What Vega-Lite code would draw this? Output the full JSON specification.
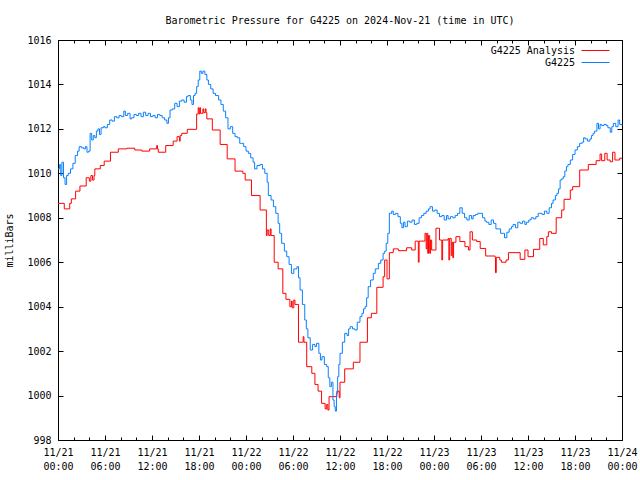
{
  "$schema": "https://vega.github.io/schema/vega-lite/v6.json",
  "width": 564,
  "height": 400,
  "autosize": {"type": "none"},
  "padding": {"left": 58, "top": 40, "right": 18, "bottom": 40},
  "background": "white",
  "title": {"text": "Barometric Pressure for G4225 on 2024-Nov-21 (time in UTC)", "font": "DejaVu Sans Mono", "fontSize": 10, "fontWeight": "normal", "color": "black", "anchor": "middle", "baseline": "bottom", "offset": -1},
  "config": {
    "view": {"stroke": "black", "strokeWidth": 1},
    "font": "DejaVu Sans Mono",
    "axis": {"domain": false, "grid": false, "labelFont": "DejaVu Sans Mono", "labelFontSize": 10, "labelColor": "black", "tickColor": "black", "tickWidth": 1}
  },
  "data": {"values": [
    {"series": "G4225 Analysis", "t": "2024-11-21T00:00:00Z", "p": 1008.65},
    {"series": "G4225 Analysis", "t": "2024-11-21T00:48:00Z", "p": 1008.4},
    {"series": "G4225 Analysis", "t": "2024-11-21T01:30:00Z", "p": 1008.65},
    {"series": "G4225 Analysis", "t": "2024-11-21T01:42:00Z", "p": 1008.85},
    {"series": "G4225 Analysis", "t": "2024-11-21T02:15:00Z", "p": 1009.2},
    {"series": "G4225 Analysis", "t": "2024-11-21T02:48:00Z", "p": 1009.43},
    {"series": "G4225 Analysis", "t": "2024-11-21T03:36:00Z", "p": 1009.8},
    {"series": "G4225 Analysis", "t": "2024-11-21T04:00:00Z", "p": 1009.65},
    {"series": "G4225 Analysis", "t": "2024-11-21T04:12:00Z", "p": 1009.9},
    {"series": "G4225 Analysis", "t": "2024-11-21T04:24:00Z", "p": 1009.7},
    {"series": "G4225 Analysis", "t": "2024-11-21T04:36:00Z", "p": 1009.9},
    {"series": "G4225 Analysis", "t": "2024-11-21T04:42:00Z", "p": 1010.2},
    {"series": "G4225 Analysis", "t": "2024-11-21T05:24:00Z", "p": 1010.35},
    {"series": "G4225 Analysis", "t": "2024-11-21T05:54:00Z", "p": 1010.55},
    {"series": "G4225 Analysis", "t": "2024-11-21T06:42:00Z", "p": 1010.95},
    {"series": "G4225 Analysis", "t": "2024-11-21T07:42:00Z", "p": 1011.1},
    {"series": "G4225 Analysis", "t": "2024-11-21T08:48:00Z", "p": 1011.13},
    {"series": "G4225 Analysis", "t": "2024-11-21T09:48:00Z", "p": 1011.05},
    {"series": "G4225 Analysis", "t": "2024-11-21T10:42:00Z", "p": 1011.0},
    {"series": "G4225 Analysis", "t": "2024-11-21T11:42:00Z", "p": 1011.1},
    {"series": "G4225 Analysis", "t": "2024-11-21T12:36:00Z", "p": 1011.25},
    {"series": "G4225 Analysis", "t": "2024-11-21T12:42:00Z", "p": 1011.1},
    {"series": "G4225 Analysis", "t": "2024-11-21T12:48:00Z", "p": 1010.95},
    {"series": "G4225 Analysis", "t": "2024-11-21T13:45:00Z", "p": 1011.25},
    {"series": "G4225 Analysis", "t": "2024-11-21T14:42:00Z", "p": 1011.45},
    {"series": "G4225 Analysis", "t": "2024-11-21T15:12:00Z", "p": 1011.65},
    {"series": "G4225 Analysis", "t": "2024-11-21T15:30:00Z", "p": 1011.45},
    {"series": "G4225 Analysis", "t": "2024-11-21T15:36:00Z", "p": 1011.7},
    {"series": "G4225 Analysis", "t": "2024-11-21T15:48:00Z", "p": 1011.8},
    {"series": "G4225 Analysis", "t": "2024-11-21T16:30:00Z", "p": 1011.98},
    {"series": "G4225 Analysis", "t": "2024-11-21T17:42:00Z", "p": 1012.67},
    {"series": "G4225 Analysis", "t": "2024-11-21T17:54:00Z", "p": 1012.95},
    {"series": "G4225 Analysis", "t": "2024-11-21T18:00:00Z", "p": 1012.67},
    {"series": "G4225 Analysis", "t": "2024-11-21T18:06:00Z", "p": 1012.95},
    {"series": "G4225 Analysis", "t": "2024-11-21T18:12:00Z", "p": 1012.7},
    {"series": "G4225 Analysis", "t": "2024-11-21T18:30:00Z", "p": 1012.9},
    {"series": "G4225 Analysis", "t": "2024-11-21T18:36:00Z", "p": 1012.73},
    {"series": "G4225 Analysis", "t": "2024-11-21T18:48:00Z", "p": 1012.9},
    {"series": "G4225 Analysis", "t": "2024-11-21T18:54:00Z", "p": 1012.73},
    {"series": "G4225 Analysis", "t": "2024-11-21T19:00:00Z", "p": 1012.45},
    {"series": "G4225 Analysis", "t": "2024-11-21T19:42:00Z", "p": 1011.95},
    {"series": "G4225 Analysis", "t": "2024-11-21T20:42:00Z", "p": 1011.3},
    {"series": "G4225 Analysis", "t": "2024-11-21T21:36:00Z", "p": 1010.65},
    {"series": "G4225 Analysis", "t": "2024-11-21T22:36:00Z", "p": 1010.1},
    {"series": "G4225 Analysis", "t": "2024-11-21T23:36:00Z", "p": 1010.0},
    {"series": "G4225 Analysis", "t": "2024-11-21T23:54:00Z", "p": 1009.7},
    {"series": "G4225 Analysis", "t": "2024-11-22T00:42:00Z", "p": 1009.0},
    {"series": "G4225 Analysis", "t": "2024-11-22T01:48:00Z", "p": 1008.35},
    {"series": "G4225 Analysis", "t": "2024-11-22T02:36:00Z", "p": 1007.2},
    {"series": "G4225 Analysis", "t": "2024-11-22T02:42:00Z", "p": 1007.45},
    {"series": "G4225 Analysis", "t": "2024-11-22T02:54:00Z", "p": 1007.2},
    {"series": "G4225 Analysis", "t": "2024-11-22T03:06:00Z", "p": 1007.5},
    {"series": "G4225 Analysis", "t": "2024-11-22T03:12:00Z", "p": 1007.2},
    {"series": "G4225 Analysis", "t": "2024-11-22T03:36:00Z", "p": 1006.0},
    {"series": "G4225 Analysis", "t": "2024-11-22T04:06:00Z", "p": 1005.7},
    {"series": "G4225 Analysis", "t": "2024-11-22T04:42:00Z", "p": 1004.6},
    {"series": "G4225 Analysis", "t": "2024-11-22T05:06:00Z", "p": 1004.33},
    {"series": "G4225 Analysis", "t": "2024-11-22T05:36:00Z", "p": 1004.0},
    {"series": "G4225 Analysis", "t": "2024-11-22T05:48:00Z", "p": 1004.25},
    {"series": "G4225 Analysis", "t": "2024-11-22T05:54:00Z", "p": 1003.95},
    {"series": "G4225 Analysis", "t": "2024-11-22T06:06:00Z", "p": 1004.3},
    {"series": "G4225 Analysis", "t": "2024-11-22T06:15:00Z", "p": 1004.1},
    {"series": "G4225 Analysis", "t": "2024-11-22T06:42:00Z", "p": 1002.4},
    {"series": "G4225 Analysis", "t": "2024-11-22T07:18:00Z", "p": 1002.65},
    {"series": "G4225 Analysis", "t": "2024-11-22T07:24:00Z", "p": 1002.4},
    {"series": "G4225 Analysis", "t": "2024-11-22T07:45:00Z", "p": 1001.3},
    {"series": "G4225 Analysis", "t": "2024-11-22T08:24:00Z", "p": 1001.0},
    {"series": "G4225 Analysis", "t": "2024-11-22T08:48:00Z", "p": 1000.5},
    {"series": "G4225 Analysis", "t": "2024-11-22T09:12:00Z", "p": 1000.2},
    {"series": "G4225 Analysis", "t": "2024-11-22T09:39:00Z", "p": 999.65},
    {"series": "G4225 Analysis", "t": "2024-11-22T10:06:00Z", "p": 999.4},
    {"series": "G4225 Analysis", "t": "2024-11-22T10:18:00Z", "p": 999.6},
    {"series": "G4225 Analysis", "t": "2024-11-22T10:27:00Z", "p": 999.35},
    {"series": "G4225 Analysis", "t": "2024-11-22T10:36:00Z", "p": 999.95},
    {"series": "G4225 Analysis", "t": "2024-11-22T11:36:00Z", "p": 1000.2},
    {"series": "G4225 Analysis", "t": "2024-11-22T11:54:00Z", "p": 999.9},
    {"series": "G4225 Analysis", "t": "2024-11-22T12:00:00Z", "p": 1000.6},
    {"series": "G4225 Analysis", "t": "2024-11-22T12:36:00Z", "p": 1001.2},
    {"series": "G4225 Analysis", "t": "2024-11-22T13:42:00Z", "p": 1001.5},
    {"series": "G4225 Analysis", "t": "2024-11-22T14:33:00Z", "p": 1002.4},
    {"series": "G4225 Analysis", "t": "2024-11-22T15:30:00Z", "p": 1003.5},
    {"series": "G4225 Analysis", "t": "2024-11-22T16:00:00Z", "p": 1003.7},
    {"series": "G4225 Analysis", "t": "2024-11-22T16:42:00Z", "p": 1004.87},
    {"series": "G4225 Analysis", "t": "2024-11-22T17:30:00Z", "p": 1005.35},
    {"series": "G4225 Analysis", "t": "2024-11-22T17:42:00Z", "p": 1006.1},
    {"series": "G4225 Analysis", "t": "2024-11-22T18:00:00Z", "p": 1005.25},
    {"series": "G4225 Analysis", "t": "2024-11-22T18:18:00Z", "p": 1006.43},
    {"series": "G4225 Analysis", "t": "2024-11-22T18:48:00Z", "p": 1006.6},
    {"series": "G4225 Analysis", "t": "2024-11-22T19:27:00Z", "p": 1006.52},
    {"series": "G4225 Analysis", "t": "2024-11-22T20:30:00Z", "p": 1006.65},
    {"series": "G4225 Analysis", "t": "2024-11-22T21:09:00Z", "p": 1006.55},
    {"series": "G4225 Analysis", "t": "2024-11-22T21:36:00Z", "p": 1006.95},
    {"series": "G4225 Analysis", "t": "2024-11-22T22:00:00Z", "p": 1006.0},
    {"series": "G4225 Analysis", "t": "2024-11-22T22:06:00Z", "p": 1006.95},
    {"series": "G4225 Analysis", "t": "2024-11-22T22:51:00Z", "p": 1007.3},
    {"series": "G4225 Analysis", "t": "2024-11-22T23:00:00Z", "p": 1006.6},
    {"series": "G4225 Analysis", "t": "2024-11-22T23:06:00Z", "p": 1007.3},
    {"series": "G4225 Analysis", "t": "2024-11-22T23:12:00Z", "p": 1006.4},
    {"series": "G4225 Analysis", "t": "2024-11-22T23:18:00Z", "p": 1007.2},
    {"series": "G4225 Analysis", "t": "2024-11-22T23:27:00Z", "p": 1006.4},
    {"series": "G4225 Analysis", "t": "2024-11-22T23:33:00Z", "p": 1007.0},
    {"series": "G4225 Analysis", "t": "2024-11-22T23:42:00Z", "p": 1006.55},
    {"series": "G4225 Analysis", "t": "2024-11-23T00:15:00Z", "p": 1007.53},
    {"series": "G4225 Analysis", "t": "2024-11-23T00:42:00Z", "p": 1007.0},
    {"series": "G4225 Analysis", "t": "2024-11-23T01:00:00Z", "p": 1006.1},
    {"series": "G4225 Analysis", "t": "2024-11-23T01:06:00Z", "p": 1007.0},
    {"series": "G4225 Analysis", "t": "2024-11-23T01:48:00Z", "p": 1007.07},
    {"series": "G4225 Analysis", "t": "2024-11-23T01:54:00Z", "p": 1006.1},
    {"series": "G4225 Analysis", "t": "2024-11-23T02:00:00Z", "p": 1007.07},
    {"series": "G4225 Analysis", "t": "2024-11-23T02:12:00Z", "p": 1006.3},
    {"series": "G4225 Analysis", "t": "2024-11-23T02:18:00Z", "p": 1006.9},
    {"series": "G4225 Analysis", "t": "2024-11-23T02:24:00Z", "p": 1006.2},
    {"series": "G4225 Analysis", "t": "2024-11-23T02:30:00Z", "p": 1006.9},
    {"series": "G4225 Analysis", "t": "2024-11-23T02:48:00Z", "p": 1007.15},
    {"series": "G4225 Analysis", "t": "2024-11-23T03:18:00Z", "p": 1006.93},
    {"series": "G4225 Analysis", "t": "2024-11-23T03:57:00Z", "p": 1006.7},
    {"series": "G4225 Analysis", "t": "2024-11-23T04:24:00Z", "p": 1006.55},
    {"series": "G4225 Analysis", "t": "2024-11-23T04:36:00Z", "p": 1007.37},
    {"series": "G4225 Analysis", "t": "2024-11-23T04:54:00Z", "p": 1007.0},
    {"series": "G4225 Analysis", "t": "2024-11-23T05:27:00Z", "p": 1006.93},
    {"series": "G4225 Analysis", "t": "2024-11-23T05:54:00Z", "p": 1006.62},
    {"series": "G4225 Analysis", "t": "2024-11-23T06:36:00Z", "p": 1006.28},
    {"series": "G4225 Analysis", "t": "2024-11-23T07:48:00Z", "p": 1006.22},
    {"series": "G4225 Analysis", "t": "2024-11-23T07:51:00Z", "p": 1005.53},
    {"series": "G4225 Analysis", "t": "2024-11-23T07:57:00Z", "p": 1006.22},
    {"series": "G4225 Analysis", "t": "2024-11-23T08:24:00Z", "p": 1006.1},
    {"series": "G4225 Analysis", "t": "2024-11-23T08:36:00Z", "p": 1006.0},
    {"series": "G4225 Analysis", "t": "2024-11-23T09:12:00Z", "p": 1006.1},
    {"series": "G4225 Analysis", "t": "2024-11-23T09:30:00Z", "p": 1006.43},
    {"series": "G4225 Analysis", "t": "2024-11-23T11:00:00Z", "p": 1006.13},
    {"series": "G4225 Analysis", "t": "2024-11-23T11:36:00Z", "p": 1006.55},
    {"series": "G4225 Analysis", "t": "2024-11-23T12:00:00Z", "p": 1006.25},
    {"series": "G4225 Analysis", "t": "2024-11-23T12:42:00Z", "p": 1006.58},
    {"series": "G4225 Analysis", "t": "2024-11-23T13:30:00Z", "p": 1007.07},
    {"series": "G4225 Analysis", "t": "2024-11-23T13:57:00Z", "p": 1006.78},
    {"series": "G4225 Analysis", "t": "2024-11-23T14:24:00Z", "p": 1007.15},
    {"series": "G4225 Analysis", "t": "2024-11-23T14:36:00Z", "p": 1007.37},
    {"series": "G4225 Analysis", "t": "2024-11-23T15:00:00Z", "p": 1007.3},
    {"series": "G4225 Analysis", "t": "2024-11-23T15:36:00Z", "p": 1008.0},
    {"series": "G4225 Analysis", "t": "2024-11-23T16:18:00Z", "p": 1008.35},
    {"series": "G4225 Analysis", "t": "2024-11-23T16:36:00Z", "p": 1008.83},
    {"series": "G4225 Analysis", "t": "2024-11-23T17:24:00Z", "p": 1009.25},
    {"series": "G4225 Analysis", "t": "2024-11-23T17:42:00Z", "p": 1009.4},
    {"series": "G4225 Analysis", "t": "2024-11-23T18:36:00Z", "p": 1010.15},
    {"series": "G4225 Analysis", "t": "2024-11-23T19:42:00Z", "p": 1010.4},
    {"series": "G4225 Analysis", "t": "2024-11-23T20:42:00Z", "p": 1010.57},
    {"series": "G4225 Analysis", "t": "2024-11-23T21:12:00Z", "p": 1010.87},
    {"series": "G4225 Analysis", "t": "2024-11-23T21:24:00Z", "p": 1010.57},
    {"series": "G4225 Analysis", "t": "2024-11-23T21:48:00Z", "p": 1010.9},
    {"series": "G4225 Analysis", "t": "2024-11-23T22:06:00Z", "p": 1010.6},
    {"series": "G4225 Analysis", "t": "2024-11-23T22:30:00Z", "p": 1010.52},
    {"series": "G4225 Analysis", "t": "2024-11-23T22:48:00Z", "p": 1010.95},
    {"series": "G4225 Analysis", "t": "2024-11-23T23:06:00Z", "p": 1010.6},
    {"series": "G4225 Analysis", "t": "2024-11-23T23:42:00Z", "p": 1010.68},
    {"series": "G4225 Analysis", "t": "2024-11-24T00:00:00Z", "p": 1010.68},
    {"series": "G4225", "t": "2024-11-21T00:00:00Z", "p": 1010.2},
    {"series": "G4225", "t": "2024-11-21T00:12:00Z", "p": 1010.4},
    {"series": "G4225", "t": "2024-11-21T00:21:00Z", "p": 1009.9},
    {"series": "G4225", "t": "2024-11-21T00:30:00Z", "p": 1010.5},
    {"series": "G4225", "t": "2024-11-21T00:42:00Z", "p": 1009.8},
    {"series": "G4225", "t": "2024-11-21T00:54:00Z", "p": 1009.5},
    {"series": "G4225", "t": "2024-11-21T01:06:00Z", "p": 1009.9},
    {"series": "G4225", "t": "2024-11-21T01:18:00Z", "p": 1010.0},
    {"series": "G4225", "t": "2024-11-21T01:36:00Z", "p": 1010.2},
    {"series": "G4225", "t": "2024-11-21T01:54:00Z", "p": 1010.45},
    {"series": "G4225", "t": "2024-11-21T02:12:00Z", "p": 1010.8},
    {"series": "G4225", "t": "2024-11-21T02:30:00Z", "p": 1011.0},
    {"series": "G4225", "t": "2024-11-21T02:42:00Z", "p": 1011.2},
    {"series": "G4225", "t": "2024-11-21T03:00:00Z", "p": 1011.15},
    {"series": "G4225", "t": "2024-11-21T03:18:00Z", "p": 1011.1},
    {"series": "G4225", "t": "2024-11-21T03:30:00Z", "p": 1011.2},
    {"series": "G4225", "t": "2024-11-21T03:42:00Z", "p": 1010.95},
    {"series": "G4225", "t": "2024-11-21T03:54:00Z", "p": 1011.0},
    {"series": "G4225", "t": "2024-11-21T04:06:00Z", "p": 1011.8},
    {"series": "G4225", "t": "2024-11-21T04:18:00Z", "p": 1011.5},
    {"series": "G4225", "t": "2024-11-21T04:30:00Z", "p": 1011.7},
    {"series": "G4225", "t": "2024-11-21T04:42:00Z", "p": 1011.6},
    {"series": "G4225", "t": "2024-11-21T04:54:00Z", "p": 1011.9},
    {"series": "G4225", "t": "2024-11-21T05:06:00Z", "p": 1012.0},
    {"series": "G4225", "t": "2024-11-21T05:18:00Z", "p": 1011.75},
    {"series": "G4225", "t": "2024-11-21T05:30:00Z", "p": 1012.05},
    {"series": "G4225", "t": "2024-11-21T05:48:00Z", "p": 1012.1},
    {"series": "G4225", "t": "2024-11-21T06:00:00Z", "p": 1012.05},
    {"series": "G4225", "t": "2024-11-21T06:18:00Z", "p": 1012.2},
    {"series": "G4225", "t": "2024-11-21T06:36:00Z", "p": 1012.4},
    {"series": "G4225", "t": "2024-11-21T06:54:00Z", "p": 1012.35},
    {"series": "G4225", "t": "2024-11-21T07:12:00Z", "p": 1012.55},
    {"series": "G4225", "t": "2024-11-21T07:30:00Z", "p": 1012.5},
    {"series": "G4225", "t": "2024-11-21T07:48:00Z", "p": 1012.6},
    {"series": "G4225", "t": "2024-11-21T08:06:00Z", "p": 1012.55},
    {"series": "G4225", "t": "2024-11-21T08:24:00Z", "p": 1012.8},
    {"series": "G4225", "t": "2024-11-21T08:36:00Z", "p": 1012.6},
    {"series": "G4225", "t": "2024-11-21T08:54:00Z", "p": 1012.7},
    {"series": "G4225", "t": "2024-11-21T09:12:00Z", "p": 1012.45},
    {"series": "G4225", "t": "2024-11-21T09:24:00Z", "p": 1012.5},
    {"series": "G4225", "t": "2024-11-21T09:42:00Z", "p": 1012.65},
    {"series": "G4225", "t": "2024-11-21T10:00:00Z", "p": 1012.6},
    {"series": "G4225", "t": "2024-11-21T10:18:00Z", "p": 1012.7},
    {"series": "G4225", "t": "2024-11-21T10:36:00Z", "p": 1012.55},
    {"series": "G4225", "t": "2024-11-21T10:54:00Z", "p": 1012.75},
    {"series": "G4225", "t": "2024-11-21T11:12:00Z", "p": 1012.6},
    {"series": "G4225", "t": "2024-11-21T11:30:00Z", "p": 1012.7},
    {"series": "G4225", "t": "2024-11-21T11:48:00Z", "p": 1012.55},
    {"series": "G4225", "t": "2024-11-21T12:06:00Z", "p": 1012.6},
    {"series": "G4225", "t": "2024-11-21T12:24:00Z", "p": 1012.5},
    {"series": "G4225", "t": "2024-11-21T12:42:00Z", "p": 1012.65},
    {"series": "G4225", "t": "2024-11-21T13:00:00Z", "p": 1012.6},
    {"series": "G4225", "t": "2024-11-21T13:18:00Z", "p": 1012.5},
    {"series": "G4225", "t": "2024-11-21T13:36:00Z", "p": 1012.4},
    {"series": "G4225", "t": "2024-11-21T13:54:00Z", "p": 1012.25},
    {"series": "G4225", "t": "2024-11-21T14:06:00Z", "p": 1012.5},
    {"series": "G4225", "t": "2024-11-21T14:18:00Z", "p": 1012.85},
    {"series": "G4225", "t": "2024-11-21T14:36:00Z", "p": 1012.9},
    {"series": "G4225", "t": "2024-11-21T14:54:00Z", "p": 1013.15},
    {"series": "G4225", "t": "2024-11-21T15:12:00Z", "p": 1013.0},
    {"series": "G4225", "t": "2024-11-21T15:30:00Z", "p": 1013.25},
    {"series": "G4225", "t": "2024-11-21T15:48:00Z", "p": 1013.3},
    {"series": "G4225", "t": "2024-11-21T16:06:00Z", "p": 1013.2},
    {"series": "G4225", "t": "2024-11-21T16:24:00Z", "p": 1013.45},
    {"series": "G4225", "t": "2024-11-21T16:36:00Z", "p": 1013.5},
    {"series": "G4225", "t": "2024-11-21T16:54:00Z", "p": 1013.3},
    {"series": "G4225", "t": "2024-11-21T17:06:00Z", "p": 1013.1},
    {"series": "G4225", "t": "2024-11-21T17:18:00Z", "p": 1013.5},
    {"series": "G4225", "t": "2024-11-21T17:30:00Z", "p": 1013.6},
    {"series": "G4225", "t": "2024-11-21T17:42:00Z", "p": 1013.9},
    {"series": "G4225", "t": "2024-11-21T17:54:00Z", "p": 1014.2},
    {"series": "G4225", "t": "2024-11-21T18:06:00Z", "p": 1014.6},
    {"series": "G4225", "t": "2024-11-21T18:18:00Z", "p": 1014.5},
    {"series": "G4225", "t": "2024-11-21T18:30:00Z", "p": 1014.6},
    {"series": "G4225", "t": "2024-11-21T18:45:00Z", "p": 1014.45},
    {"series": "G4225", "t": "2024-11-21T19:00:00Z", "p": 1014.2},
    {"series": "G4225", "t": "2024-11-21T19:12:00Z", "p": 1014.0},
    {"series": "G4225", "t": "2024-11-21T19:30:00Z", "p": 1013.8},
    {"series": "G4225", "t": "2024-11-21T19:48:00Z", "p": 1013.6},
    {"series": "G4225", "t": "2024-11-21T20:06:00Z", "p": 1013.5},
    {"series": "G4225", "t": "2024-11-21T20:30:00Z", "p": 1013.3},
    {"series": "G4225", "t": "2024-11-21T20:48:00Z", "p": 1013.1},
    {"series": "G4225", "t": "2024-11-21T21:06:00Z", "p": 1012.8},
    {"series": "G4225", "t": "2024-11-21T21:24:00Z", "p": 1012.5},
    {"series": "G4225", "t": "2024-11-21T21:42:00Z", "p": 1012.0},
    {"series": "G4225", "t": "2024-11-21T22:00:00Z", "p": 1012.1},
    {"series": "G4225", "t": "2024-11-21T22:18:00Z", "p": 1011.8},
    {"series": "G4225", "t": "2024-11-21T22:36:00Z", "p": 1011.65},
    {"series": "G4225", "t": "2024-11-21T22:54:00Z", "p": 1011.6},
    {"series": "G4225", "t": "2024-11-21T23:12:00Z", "p": 1011.35},
    {"series": "G4225", "t": "2024-11-21T23:27:00Z", "p": 1011.35},
    {"series": "G4225", "t": "2024-11-21T23:42:00Z", "p": 1011.2},
    {"series": "G4225", "t": "2024-11-22T00:00:00Z", "p": 1011.0},
    {"series": "G4225", "t": "2024-11-22T00:18:00Z", "p": 1010.9},
    {"series": "G4225", "t": "2024-11-22T00:36:00Z", "p": 1010.7},
    {"series": "G4225", "t": "2024-11-22T00:54:00Z", "p": 1010.5},
    {"series": "G4225", "t": "2024-11-22T01:06:00Z", "p": 1010.2},
    {"series": "G4225", "t": "2024-11-22T01:24:00Z", "p": 1010.35},
    {"series": "G4225", "t": "2024-11-22T01:48:00Z", "p": 1010.4},
    {"series": "G4225", "t": "2024-11-22T02:06:00Z", "p": 1010.2},
    {"series": "G4225", "t": "2024-11-22T02:24:00Z", "p": 1010.0},
    {"series": "G4225", "t": "2024-11-22T02:42:00Z", "p": 1009.6},
    {"series": "G4225", "t": "2024-11-22T02:51:00Z", "p": 1009.0},
    {"series": "G4225", "t": "2024-11-22T03:12:00Z", "p": 1008.8},
    {"series": "G4225", "t": "2024-11-22T03:30:00Z", "p": 1008.5},
    {"series": "G4225", "t": "2024-11-22T03:48:00Z", "p": 1008.2},
    {"series": "G4225", "t": "2024-11-22T04:06:00Z", "p": 1007.75},
    {"series": "G4225", "t": "2024-11-22T04:18:00Z", "p": 1007.3},
    {"series": "G4225", "t": "2024-11-22T04:33:00Z", "p": 1006.85},
    {"series": "G4225", "t": "2024-11-22T04:54:00Z", "p": 1006.5},
    {"series": "G4225", "t": "2024-11-22T05:12:00Z", "p": 1006.25},
    {"series": "G4225", "t": "2024-11-22T05:30:00Z", "p": 1005.9},
    {"series": "G4225", "t": "2024-11-22T05:48:00Z", "p": 1005.5},
    {"series": "G4225", "t": "2024-11-22T06:06:00Z", "p": 1005.7},
    {"series": "G4225", "t": "2024-11-22T06:30:00Z", "p": 1005.8},
    {"series": "G4225", "t": "2024-11-22T06:42:00Z", "p": 1005.3},
    {"series": "G4225", "t": "2024-11-22T06:54:00Z", "p": 1004.75},
    {"series": "G4225", "t": "2024-11-22T07:12:00Z", "p": 1004.1},
    {"series": "G4225", "t": "2024-11-22T07:30:00Z", "p": 1003.4},
    {"series": "G4225", "t": "2024-11-22T07:42:00Z", "p": 1003.0},
    {"series": "G4225", "t": "2024-11-22T07:54:00Z", "p": 1002.6},
    {"series": "G4225", "t": "2024-11-22T08:12:00Z", "p": 1002.05},
    {"series": "G4225", "t": "2024-11-22T08:30:00Z", "p": 1002.3},
    {"series": "G4225", "t": "2024-11-22T08:48:00Z", "p": 1002.2},
    {"series": "G4225", "t": "2024-11-22T09:00:00Z", "p": 1002.35},
    {"series": "G4225", "t": "2024-11-22T09:18:00Z", "p": 1001.9},
    {"series": "G4225", "t": "2024-11-22T09:30:00Z", "p": 1001.6},
    {"series": "G4225", "t": "2024-11-22T09:42:00Z", "p": 1001.75},
    {"series": "G4225", "t": "2024-11-22T10:00:00Z", "p": 1001.4},
    {"series": "G4225", "t": "2024-11-22T10:18:00Z", "p": 1001.3},
    {"series": "G4225", "t": "2024-11-22T10:30:00Z", "p": 1000.8},
    {"series": "G4225", "t": "2024-11-22T10:42:00Z", "p": 1000.4},
    {"series": "G4225", "t": "2024-11-22T10:54:00Z", "p": 1000.6},
    {"series": "G4225", "t": "2024-11-22T11:06:00Z", "p": 999.8},
    {"series": "G4225", "t": "2024-11-22T11:15:00Z", "p": 999.5},
    {"series": "G4225", "t": "2024-11-22T11:24:00Z", "p": 999.3},
    {"series": "G4225", "t": "2024-11-22T11:33:00Z", "p": 1000.1},
    {"series": "G4225", "t": "2024-11-22T11:42:00Z", "p": 1000.85},
    {"series": "G4225", "t": "2024-11-22T11:51:00Z", "p": 1001.4},
    {"series": "G4225", "t": "2024-11-22T12:00:00Z", "p": 1001.9},
    {"series": "G4225", "t": "2024-11-22T12:18:00Z", "p": 1002.4},
    {"series": "G4225", "t": "2024-11-22T12:36:00Z", "p": 1002.8},
    {"series": "G4225", "t": "2024-11-22T12:54:00Z", "p": 1002.7},
    {"series": "G4225", "t": "2024-11-22T13:06:00Z", "p": 1003.0},
    {"series": "G4225", "t": "2024-11-22T13:18:00Z", "p": 1003.1},
    {"series": "G4225", "t": "2024-11-22T13:36:00Z", "p": 1003.0},
    {"series": "G4225", "t": "2024-11-22T13:54:00Z", "p": 1002.95},
    {"series": "G4225", "t": "2024-11-22T14:12:00Z", "p": 1003.3},
    {"series": "G4225", "t": "2024-11-22T14:33:00Z", "p": 1003.55},
    {"series": "G4225", "t": "2024-11-22T14:48:00Z", "p": 1003.7},
    {"series": "G4225", "t": "2024-11-22T15:00:00Z", "p": 1003.9},
    {"series": "G4225", "t": "2024-11-22T15:12:00Z", "p": 1004.0},
    {"series": "G4225", "t": "2024-11-22T15:24:00Z", "p": 1004.4},
    {"series": "G4225", "t": "2024-11-22T15:36:00Z", "p": 1004.9},
    {"series": "G4225", "t": "2024-11-22T15:54:00Z", "p": 1005.2},
    {"series": "G4225", "t": "2024-11-22T16:15:00Z", "p": 1005.5},
    {"series": "G4225", "t": "2024-11-22T16:30:00Z", "p": 1005.7},
    {"series": "G4225", "t": "2024-11-22T16:54:00Z", "p": 1005.95},
    {"series": "G4225", "t": "2024-11-22T17:12:00Z", "p": 1006.1},
    {"series": "G4225", "t": "2024-11-22T17:30:00Z", "p": 1006.4},
    {"series": "G4225", "t": "2024-11-22T17:42:00Z", "p": 1006.5},
    {"series": "G4225", "t": "2024-11-22T17:54:00Z", "p": 1006.85},
    {"series": "G4225", "t": "2024-11-22T18:06:00Z", "p": 1007.3},
    {"series": "G4225", "t": "2024-11-22T18:18:00Z", "p": 1008.2},
    {"series": "G4225", "t": "2024-11-22T18:36:00Z", "p": 1008.3},
    {"series": "G4225", "t": "2024-11-22T18:48:00Z", "p": 1008.15},
    {"series": "G4225", "t": "2024-11-22T19:06:00Z", "p": 1008.2},
    {"series": "G4225", "t": "2024-11-22T19:24:00Z", "p": 1008.05},
    {"series": "G4225", "t": "2024-11-22T19:42:00Z", "p": 1007.75},
    {"series": "G4225", "t": "2024-11-22T19:54:00Z", "p": 1007.55},
    {"series": "G4225", "t": "2024-11-22T20:06:00Z", "p": 1007.8},
    {"series": "G4225", "t": "2024-11-22T20:18:00Z", "p": 1007.6},
    {"series": "G4225", "t": "2024-11-22T20:36:00Z", "p": 1007.85},
    {"series": "G4225", "t": "2024-11-22T20:54:00Z", "p": 1007.8},
    {"series": "G4225", "t": "2024-11-22T21:12:00Z", "p": 1007.9},
    {"series": "G4225", "t": "2024-11-22T21:30:00Z", "p": 1007.7},
    {"series": "G4225", "t": "2024-11-22T21:48:00Z", "p": 1007.75},
    {"series": "G4225", "t": "2024-11-22T22:06:00Z", "p": 1008.0},
    {"series": "G4225", "t": "2024-11-22T22:24:00Z", "p": 1008.1},
    {"series": "G4225", "t": "2024-11-22T22:42:00Z", "p": 1008.2},
    {"series": "G4225", "t": "2024-11-22T23:00:00Z", "p": 1008.3},
    {"series": "G4225", "t": "2024-11-22T23:18:00Z", "p": 1008.4},
    {"series": "G4225", "t": "2024-11-22T23:30:00Z", "p": 1008.5},
    {"series": "G4225", "t": "2024-11-22T23:48:00Z", "p": 1008.3},
    {"series": "G4225", "t": "2024-11-23T00:06:00Z", "p": 1008.35},
    {"series": "G4225", "t": "2024-11-23T00:24:00Z", "p": 1008.2},
    {"series": "G4225", "t": "2024-11-23T00:42:00Z", "p": 1008.05},
    {"series": "G4225", "t": "2024-11-23T01:00:00Z", "p": 1008.1},
    {"series": "G4225", "t": "2024-11-23T01:18:00Z", "p": 1007.9},
    {"series": "G4225", "t": "2024-11-23T01:36:00Z", "p": 1008.1},
    {"series": "G4225", "t": "2024-11-23T01:48:00Z", "p": 1007.95},
    {"series": "G4225", "t": "2024-11-23T02:06:00Z", "p": 1008.05},
    {"series": "G4225", "t": "2024-11-23T02:24:00Z", "p": 1008.0},
    {"series": "G4225", "t": "2024-11-23T02:42:00Z", "p": 1008.1},
    {"series": "G4225", "t": "2024-11-23T03:00:00Z", "p": 1008.2},
    {"series": "G4225", "t": "2024-11-23T03:18:00Z", "p": 1008.45},
    {"series": "G4225", "t": "2024-11-23T03:36:00Z", "p": 1008.2},
    {"series": "G4225", "t": "2024-11-23T03:54:00Z", "p": 1008.0},
    {"series": "G4225", "t": "2024-11-23T04:12:00Z", "p": 1007.9},
    {"series": "G4225", "t": "2024-11-23T04:30:00Z", "p": 1008.1},
    {"series": "G4225", "t": "2024-11-23T04:48:00Z", "p": 1007.95},
    {"series": "G4225", "t": "2024-11-23T05:00:00Z", "p": 1008.1},
    {"series": "G4225", "t": "2024-11-23T05:18:00Z", "p": 1008.15},
    {"series": "G4225", "t": "2024-11-23T05:36:00Z", "p": 1008.2},
    {"series": "G4225", "t": "2024-11-23T05:54:00Z", "p": 1008.2},
    {"series": "G4225", "t": "2024-11-23T06:12:00Z", "p": 1008.0},
    {"series": "G4225", "t": "2024-11-23T06:30:00Z", "p": 1007.85},
    {"series": "G4225", "t": "2024-11-23T06:42:00Z", "p": 1007.8},
    {"series": "G4225", "t": "2024-11-23T07:00:00Z", "p": 1007.7},
    {"series": "G4225", "t": "2024-11-23T07:18:00Z", "p": 1007.9},
    {"series": "G4225", "t": "2024-11-23T07:36:00Z", "p": 1007.75},
    {"series": "G4225", "t": "2024-11-23T07:54:00Z", "p": 1007.5},
    {"series": "G4225", "t": "2024-11-23T08:12:00Z", "p": 1007.5},
    {"series": "G4225", "t": "2024-11-23T08:30:00Z", "p": 1007.3},
    {"series": "G4225", "t": "2024-11-23T08:51:00Z", "p": 1007.3},
    {"series": "G4225", "t": "2024-11-23T09:00:00Z", "p": 1007.1},
    {"series": "G4225", "t": "2024-11-23T09:18:00Z", "p": 1007.35},
    {"series": "G4225", "t": "2024-11-23T09:36:00Z", "p": 1007.5},
    {"series": "G4225", "t": "2024-11-23T09:54:00Z", "p": 1007.6},
    {"series": "G4225", "t": "2024-11-23T10:06:00Z", "p": 1007.7},
    {"series": "G4225", "t": "2024-11-23T10:24:00Z", "p": 1007.55},
    {"series": "G4225", "t": "2024-11-23T10:42:00Z", "p": 1007.8},
    {"series": "G4225", "t": "2024-11-23T11:00:00Z", "p": 1007.75},
    {"series": "G4225", "t": "2024-11-23T11:18:00Z", "p": 1007.85},
    {"series": "G4225", "t": "2024-11-23T11:36:00Z", "p": 1007.7},
    {"series": "G4225", "t": "2024-11-23T11:48:00Z", "p": 1007.8},
    {"series": "G4225", "t": "2024-11-23T12:06:00Z", "p": 1007.9},
    {"series": "G4225", "t": "2024-11-23T12:24:00Z", "p": 1008.0},
    {"series": "G4225", "t": "2024-11-23T12:42:00Z", "p": 1007.95},
    {"series": "G4225", "t": "2024-11-23T13:00:00Z", "p": 1008.05},
    {"series": "G4225", "t": "2024-11-23T13:18:00Z", "p": 1008.2},
    {"series": "G4225", "t": "2024-11-23T13:30:00Z", "p": 1008.2},
    {"series": "G4225", "t": "2024-11-23T13:48:00Z", "p": 1008.15},
    {"series": "G4225", "t": "2024-11-23T14:06:00Z", "p": 1008.3},
    {"series": "G4225", "t": "2024-11-23T14:24:00Z", "p": 1008.2},
    {"series": "G4225", "t": "2024-11-23T14:42:00Z", "p": 1008.45},
    {"series": "G4225", "t": "2024-11-23T15:00:00Z", "p": 1008.65},
    {"series": "G4225", "t": "2024-11-23T15:12:00Z", "p": 1008.8},
    {"series": "G4225", "t": "2024-11-23T15:30:00Z", "p": 1009.0},
    {"series": "G4225", "t": "2024-11-23T15:42:00Z", "p": 1009.1},
    {"series": "G4225", "t": "2024-11-23T15:54:00Z", "p": 1009.3},
    {"series": "G4225", "t": "2024-11-23T16:06:00Z", "p": 1009.7},
    {"series": "G4225", "t": "2024-11-23T16:18:00Z", "p": 1009.75},
    {"series": "G4225", "t": "2024-11-23T16:30:00Z", "p": 1009.85},
    {"series": "G4225", "t": "2024-11-23T16:42:00Z", "p": 1010.1},
    {"series": "G4225", "t": "2024-11-23T16:54:00Z", "p": 1010.3},
    {"series": "G4225", "t": "2024-11-23T17:06:00Z", "p": 1010.4},
    {"series": "G4225", "t": "2024-11-23T17:24:00Z", "p": 1010.6},
    {"series": "G4225", "t": "2024-11-23T17:42:00Z", "p": 1010.85},
    {"series": "G4225", "t": "2024-11-23T18:00:00Z", "p": 1011.05},
    {"series": "G4225", "t": "2024-11-23T18:18:00Z", "p": 1011.2},
    {"series": "G4225", "t": "2024-11-23T18:36:00Z", "p": 1011.35},
    {"series": "G4225", "t": "2024-11-23T18:54:00Z", "p": 1011.4},
    {"series": "G4225", "t": "2024-11-23T19:06:00Z", "p": 1011.6},
    {"series": "G4225", "t": "2024-11-23T19:18:00Z", "p": 1011.55},
    {"series": "G4225", "t": "2024-11-23T19:36:00Z", "p": 1011.45},
    {"series": "G4225", "t": "2024-11-23T19:54:00Z", "p": 1011.55},
    {"series": "G4225", "t": "2024-11-23T20:06:00Z", "p": 1011.7},
    {"series": "G4225", "t": "2024-11-23T20:18:00Z", "p": 1011.8},
    {"series": "G4225", "t": "2024-11-23T20:30:00Z", "p": 1011.9},
    {"series": "G4225", "t": "2024-11-23T20:48:00Z", "p": 1012.25},
    {"series": "G4225", "t": "2024-11-23T21:00:00Z", "p": 1012.0},
    {"series": "G4225", "t": "2024-11-23T21:12:00Z", "p": 1012.2},
    {"series": "G4225", "t": "2024-11-23T21:24:00Z", "p": 1012.15},
    {"series": "G4225", "t": "2024-11-23T21:42:00Z", "p": 1012.2},
    {"series": "G4225", "t": "2024-11-23T22:00:00Z", "p": 1012.15},
    {"series": "G4225", "t": "2024-11-23T22:12:00Z", "p": 1012.05},
    {"series": "G4225", "t": "2024-11-23T22:30:00Z", "p": 1011.85},
    {"series": "G4225", "t": "2024-11-23T22:42:00Z", "p": 1012.1},
    {"series": "G4225", "t": "2024-11-23T22:54:00Z", "p": 1012.25},
    {"series": "G4225", "t": "2024-11-23T23:12:00Z", "p": 1012.1},
    {"series": "G4225", "t": "2024-11-23T23:30:00Z", "p": 1012.4},
    {"series": "G4225", "t": "2024-11-23T23:42:00Z", "p": 1012.2},
    {"series": "G4225", "t": "2024-11-24T00:00:00Z", "p": 1012.15}
  ]},
  "layer": [
    {
      "mark": {"type": "line", "interpolate": "step-after", "strokeWidth": 1},
      "encoding": {
        "x": {"field": "t", "type": "temporal",
          "scale": {"type": "utc", "domain": [1732147200000, 1732406400000], "nice": false},
          "axis": {"orient": "bottom", "ticks": false, "title": null, "values": [1732147200000, 1732168800000, 1732190400000, 1732212000000, 1732233600000, 1732255200000, 1732276800000, 1732298400000, 1732320000000, 1732341600000, 1732363200000, 1732384800000, 1732406400000], "labelExpr": "[utcFormat(datum.value, '%m/%d'), utcFormat(datum.value, '%H:%M')]", "labelPadding": 7, "labelLineHeight": 14, "labelBaseline": "top", "labelAlign": "center", "labelFlush": false, "labelOverlap": false}},
        "y": {"field": "p", "type": "quantitative",
          "scale": {"domain": [998, 1016], "zero": false, "nice": false},
          "axis": {"orient": "left", "ticks": false, "values": [998, 1000, 1002, 1004, 1006, 1008, 1010, 1012, 1014, 1016], "format": "d", "labelPadding": 7, "title": "milliBars", "titleFont": "DejaVu Sans Mono", "titleFontSize": 10, "titleFontWeight": "normal", "titleColor": "black", "titlePadding": 12}},
        "color": {"field": "series", "type": "nominal",
          "scale": {"domain": ["G4225 Analysis", "G4225"], "range": ["#ff0000", "#0a80ff"]},
          "legend": {"orient": "none", "legendX": 531, "legendY": 4, "title": null, "padding": 0, "symbolType": "M-2.33,0H2.33", "symbolSize": 144, "symbolStrokeWidth": 1, "symbolFillColor": "transparent", "labelAlign": "right", "labelOffset": -27, "labelFont": "DejaVu Sans Mono", "labelFontSize": 10, "labelColor": "black", "rowPadding": 0}}
      }
    },
    {
      "transform": [{"filter": "false"}],
      "mark": {"type": "point", "opacity": 0},
      "encoding": {
        "x": {"field": "t", "type": "temporal", "scale": {"type": "utc", "domain": [1732147200000, 1732406400000], "nice": false},
          "axis": {"orient": "bottom", "labels": false, "title": null, "tickSize": -5, "values": [1732147200000, 1732168800000, 1732190400000, 1732212000000, 1732233600000, 1732255200000, 1732276800000, 1732298400000, 1732320000000, 1732341600000, 1732363200000, 1732384800000, 1732406400000]}},
        "y": {"field": "p", "type": "quantitative", "scale": {"domain": [998, 1016], "zero": false, "nice": false},
          "axis": {"orient": "left", "labels": false, "title": null, "tickSize": -5, "values": [998, 1000, 1002, 1004, 1006, 1008, 1010, 1012, 1014, 1016]}}
      }
    },
    {
      "transform": [{"filter": "false"}],
      "mark": {"type": "point", "opacity": 0},
      "encoding": {
        "x": {"field": "t", "type": "temporal", "scale": {"type": "utc", "domain": [1732147200000, 1732406400000], "nice": false},
          "axis": {"orient": "top", "labels": false, "title": null, "tickSize": -5, "values": [1732147200000, 1732168800000, 1732190400000, 1732212000000, 1732233600000, 1732255200000, 1732276800000, 1732298400000, 1732320000000, 1732341600000, 1732363200000, 1732384800000, 1732406400000]}},
        "y": {"field": "p", "type": "quantitative", "scale": {"domain": [998, 1016], "zero": false, "nice": false},
          "axis": {"orient": "right", "labels": false, "title": null, "tickSize": -5, "values": [998, 1000, 1002, 1004, 1006, 1008, 1010, 1012, 1014, 1016]}}
      }
    },
    {
      "transform": [{"filter": "false"}],
      "mark": {"type": "point", "opacity": 0},
      "encoding": {
        "x": {"field": "t", "type": "temporal", "scale": {"type": "utc", "domain": [1732147200000, 1732406400000], "nice": false},
          "axis": {"orient": "bottom", "labels": false, "title": null, "tickSize": -3, "values": [1732147200000, 1732154400000, 1732161600000, 1732168800000, 1732176000000, 1732183200000, 1732190400000, 1732197600000, 1732204800000, 1732212000000, 1732219200000, 1732226400000, 1732233600000, 1732240800000, 1732248000000, 1732255200000, 1732262400000, 1732269600000, 1732276800000, 1732284000000, 1732291200000, 1732298400000, 1732305600000, 1732312800000, 1732320000000, 1732327200000, 1732334400000, 1732341600000, 1732348800000, 1732356000000, 1732363200000, 1732370400000, 1732377600000, 1732384800000, 1732392000000, 1732399200000, 1732406400000]}},
        "y": {"field": "p", "type": "quantitative", "scale": {"domain": [998, 1016], "zero": false, "nice": false}, "axis": null}
      }
    },
    {
      "transform": [{"filter": "false"}],
      "mark": {"type": "point", "opacity": 0},
      "encoding": {
        "x": {"field": "t", "type": "temporal", "scale": {"type": "utc", "domain": [1732147200000, 1732406400000], "nice": false},
          "axis": {"orient": "top", "labels": false, "title": null, "tickSize": -3, "values": [1732147200000, 1732154400000, 1732161600000, 1732168800000, 1732176000000, 1732183200000, 1732190400000, 1732197600000, 1732204800000, 1732212000000, 1732219200000, 1732226400000, 1732233600000, 1732240800000, 1732248000000, 1732255200000, 1732262400000, 1732269600000, 1732276800000, 1732284000000, 1732291200000, 1732298400000, 1732305600000, 1732312800000, 1732320000000, 1732327200000, 1732334400000, 1732341600000, 1732348800000, 1732356000000, 1732363200000, 1732370400000, 1732377600000, 1732384800000, 1732392000000, 1732399200000, 1732406400000]}},
        "y": {"field": "p", "type": "quantitative", "scale": {"domain": [998, 1016], "zero": false, "nice": false}, "axis": null}
      }
    }
  ],
  "resolve": {"axis": {"x": "independent", "y": "independent"}}
}
